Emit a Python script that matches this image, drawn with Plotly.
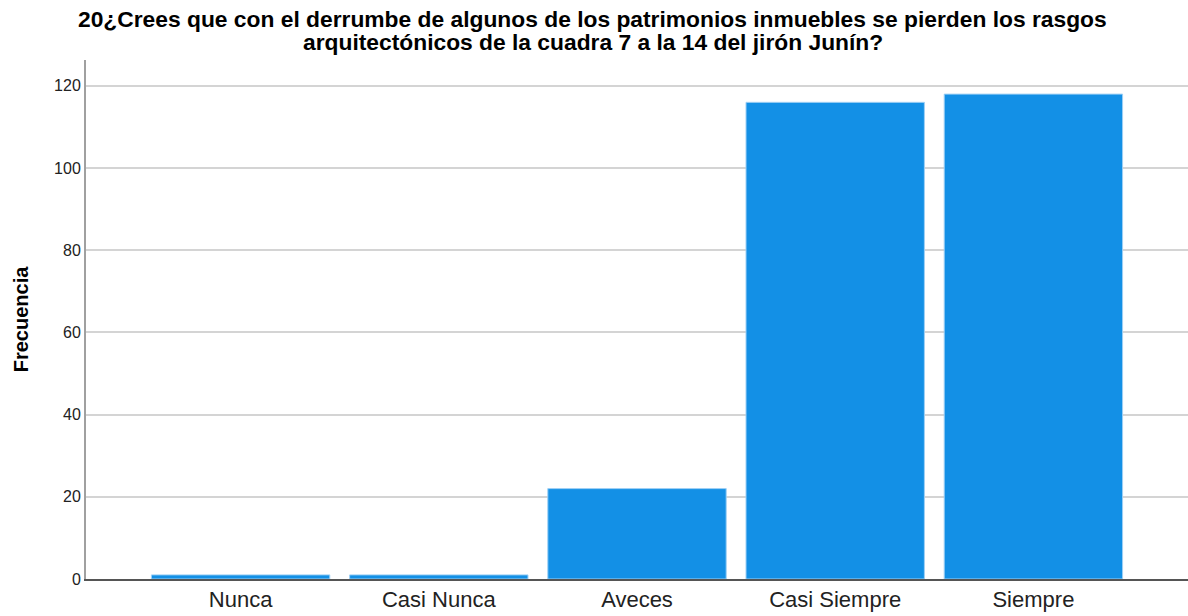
import plotly.graph_objects as go

categorias = ['Nunca', 'Casi Nunca', 'Aveces', 'Casi Siempre', 'Siempre']
frecuencia = [1, 1, 22, 116, 118]
y_ticks = [0, 20, 40, 60, 80, 100, 120]

titulo_1 = '20¿Crees que con el derrumbe de algunos de los patrimonios inmuebles se pierden los rasgos'
titulo_2 = 'arquitectónicos de la cuadra 7 a la 14 del jirón Junín?'

fuente = 'Liberation Sans, Arial'

fig = go.Figure()

fig.add_trace(
    go.Bar(
        x=list(range(len(categorias))),
        y=frecuencia,
        marker=dict(color='#1390E6', line=dict(color='#9fd0f5', width=1)),
        width=0.9,
    ))

# Update x-axis
fig.update_xaxes(
    tickvals=list(range(len(categorias))),
    ticktext=categorias,
    range=[-0.78, 4.78],
    showline=True,
    linecolor='#555555',
    linewidth=2,
    showgrid=False,
    ticks='',
    tickfont=dict(family=fuente, size=22, color='#222222'),
    fixedrange=True,
)

# Update y-axis
fig.update_yaxes(
    title_text='<b>Frecuencia</b>',
    title_font=dict(family=fuente, size=20, color='#000000'),
    title_standoff=20,
    tickvals=y_ticks,
    range=[0, 126.3],
    showline=True,
    linecolor='#a0a0a0',
    linewidth=2,
    showgrid=True,
    gridcolor='#d4d4d4',
    gridwidth=2,
    zeroline=False,
    ticks='',
    tickfont=dict(family=fuente, size=16, color='#222222'),
)

# title as two lines, SPSS spacing is tighter than plotly's
for texto, y in [(titulo_1, 1.079), (titulo_2, 1.035)]:
    fig.add_annotation(
        text='<b>' + texto + '</b>',
        xref='paper', yref='paper',
        x=0.46, y=y,
        xanchor='center', yanchor='middle',
        showarrow=False,
        font=dict(family=fuente, size=22.8, color='#000000'),
    )

fig.update_layout(
    width=1188,
    height=616,
    margin=dict(l=86, r=0, t=60, b=37),
    plot_bgcolor='white',
    paper_bgcolor='white',
    showlegend=False,
)

fig.write_html("out.html", config={'displayModeBar': False},
               post_script="document.body.style.margin='0';")
